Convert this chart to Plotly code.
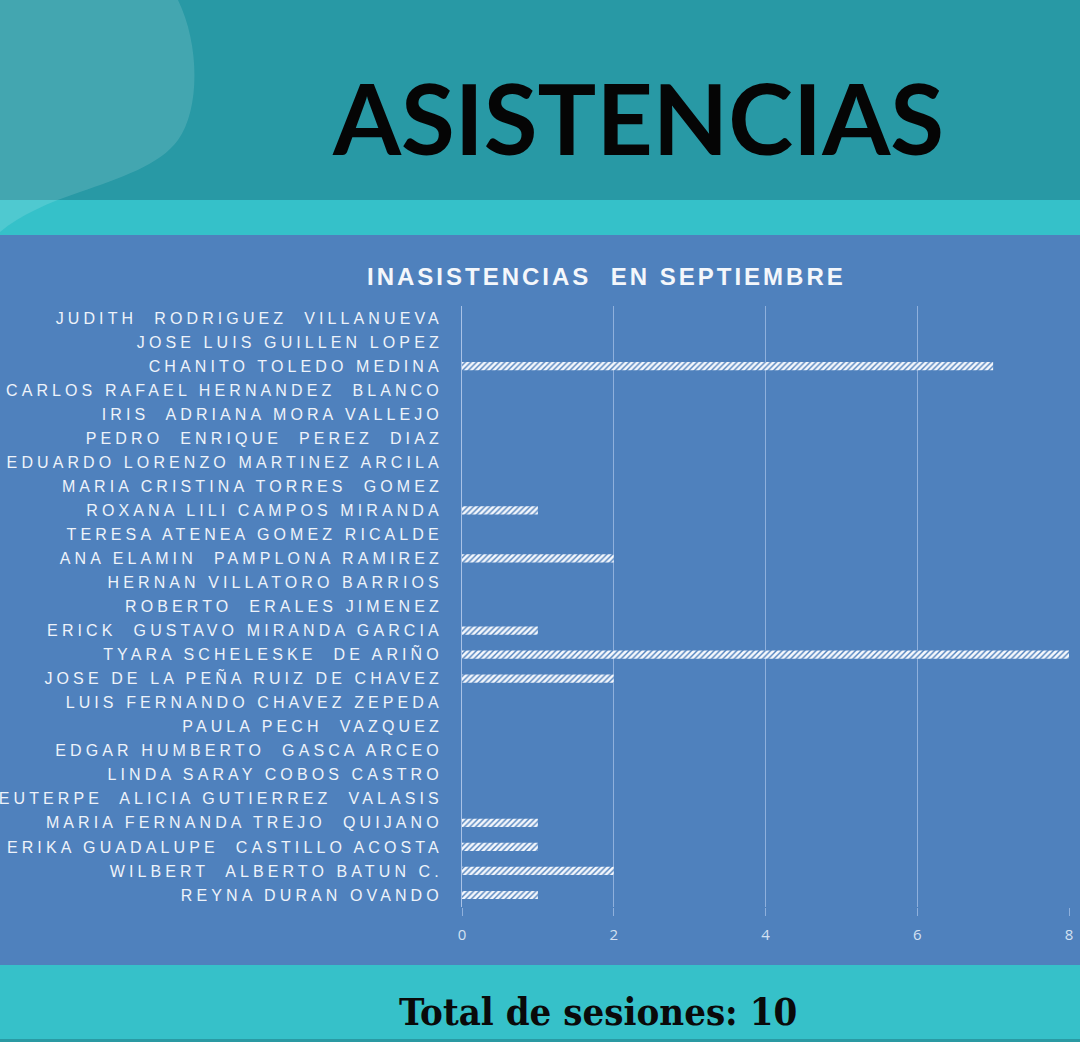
import plotly.graph_objects as go

names = [
    "JUDITH  RODRIGUEZ  VILLANUEVA",
    "JOSE LUIS GUILLEN LOPEZ",
    "CHANITO TOLEDO MEDINA",
    "CARLOS RAFAEL HERNANDEZ  BLANCO",
    "IRIS  ADRIANA MORA VALLEJO",
    "PEDRO  ENRIQUE  PEREZ  DIAZ",
    "EDUARDO LORENZO MARTINEZ ARCILA",
    "MARIA CRISTINA TORRES  GOMEZ",
    "ROXANA LILI CAMPOS MIRANDA",
    "TERESA ATENEA GOMEZ RICALDE",
    "ANA ELAMIN  PAMPLONA RAMIREZ",
    "HERNAN VILLATORO BARRIOS",
    "ROBERTO  ERALES JIMENEZ",
    "ERICK  GUSTAVO MIRANDA GARCIA",
    "TYARA SCHELESKE  DE ARIÑO",
    "JOSE DE LA PEÑA RUIZ DE CHAVEZ",
    "LUIS FERNANDO CHAVEZ ZEPEDA",
    "PAULA PECH  VAZQUEZ",
    "EDGAR HUMBERTO  GASCA ARCEO",
    "LINDA SARAY COBOS CASTRO",
    "EUTERPE  ALICIA GUTIERREZ  VALASIS",
    "MARIA FERNANDA TREJO  QUIJANO",
    "ERIKA GUADALUPE  CASTILLO ACOSTA",
    "WILBERT  ALBERTO BATUN C.",
    "REYNA DURAN OVANDO",
]
absences = [0, 0, 7, 0, 0, 0, 0, 0, 1, 0, 2, 0, 0, 1, 8, 2, 0, 0, 0, 0, 0, 1, 1, 2, 1]
x_ticks = [0, 2, 4, 6, 8]

W, H = 1080, 1042

def py(y):
    return 1 - y / H

def px(x):
    return x / W

labels = [f'<span style="letter-spacing:4.1px">{n}</span>' for n in names]

fig = go.Figure()
fig.add_trace(go.Bar(
    y=names, x=absences, orientation="h",
    marker=dict(color="rgba(0,0,0,0)", line=dict(width=0),
                pattern=dict(shape="/", fgcolor="#f4f7fc", bgcolor="rgba(79,129,189,1)",
                             size=4, solidity=0.65, fillmode="replace")),
    hoverinfo="skip",
))

shapes = [
    dict(type="rect", xref="paper", yref="paper", x0=0, x1=1, y0=py(200), y1=1,
         fillcolor="#2899a5", line_width=0, layer="below"),
    dict(type="rect", xref="paper", yref="paper", x0=0, x1=1, y0=py(235), y1=py(200),
         fillcolor="#35c1c9", line_width=0, layer="below"),
    dict(type="rect", xref="paper", yref="paper", x0=0, x1=1, y0=py(965), y1=py(235),
         fillcolor="#4f81bd", line_width=0, layer="below"),
    dict(type="rect", xref="paper", yref="paper", x0=0, x1=1, y0=0, y1=py(965),
         fillcolor="#36c1c9", line_width=0, layer="below"),
    dict(type="rect", xref="paper", yref="paper", x0=0, x1=1, y0=0, y1=py(1039),
         fillcolor="#2a9aa3", line_width=0, layer="below"),
]
blob = (f"M {px(0)},{py(0)} L {px(178)},{py(0)} "
        f"C {px(200)},{py(45)} {px(200)},{py(110)} {px(178)},{py(140)} "
        f"C {px(160)},{py(165)} {px(120)},{py(178)} {px(80)},{py(192)} "
        f"C {px(50)},{py(202)} {px(20)},{py(215)} {px(0)},{py(232)} Z")
shapes.append(dict(type="path", xref="paper", yref="paper", path=blob,
                   fillcolor="rgba(255,255,255,0.13)", line_width=0, layer="below"))

annotations = [
    dict(text="<b>ASISTENCIAS</b>", x=px(638), y=py(117), xref="paper", yref="paper",
         showarrow=False, font=dict(family="Lato", size=98, color="#050505", weight=900),
         xanchor="center", yanchor="middle"),
    dict(text='<span style="letter-spacing:3px"><b>INASISTENCIAS  EN SEPTIEMBRE</b></span>',
         x=px(606), y=py(276), xref="paper", yref="paper", showarrow=False,
         font=dict(family="Liberation Sans, Arial", size=24, color="#f4f7fb"),
         xanchor="center", yanchor="middle"),
    dict(text="<b>Total de sesiones: 10</b>", x=px(598), y=py(1011), xref="paper", yref="paper",
         showarrow=False, font=dict(family="DejaVu Serif Condensed, DejaVu Serif", size=38,
                                    color="#0a0a0a"),
         xanchor="center", yanchor="middle"),
]

fig.update_layout(
    width=W, height=H,
    margin=dict(l=0, r=0, t=0, b=0),
    paper_bgcolor="#4f81bd", plot_bgcolor="rgba(0,0,0,0)",
    showlegend=False, bargap=0.66,
    shapes=shapes, annotations=annotations,
    xaxis=dict(domain=[px(462), px(1069)], range=[0, 8], tickvals=x_ticks,
               automargin=False,
               showgrid=True, gridcolor="#8fb0dc", gridwidth=1, zeroline=False,
               showline=False, ticks="outside", ticklen=8, tickcolor="#8fb0dc",
               ticklabelstandoff=6,
               tickfont=dict(family="Open Sans", size=15, color="#d4e1f2")),
    yaxis=dict(domain=[py(907), py(306)], autorange="reversed", automargin=False,
               tickvals=names, ticktext=labels, showgrid=False, zeroline=False,
               showline=True, linecolor="#a9c2e6", linewidth=1, ticks="",
               ticklabelstandoff=15,
               tickfont=dict(family="Liberation Sans, Arial", size=16, color="#eef3fa")),
)

fig.write_html("out.html", config={"displayModeBar": False},
               post_script="document.body.style.margin='0';")
